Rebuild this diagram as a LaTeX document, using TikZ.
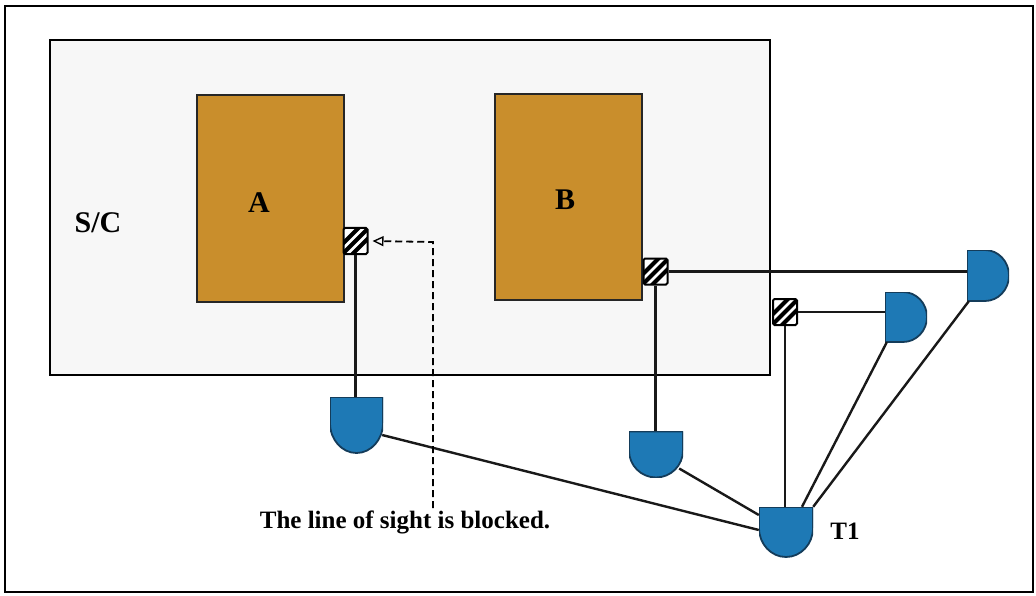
\documentclass[tikz,border=0pt]{standalone}
\usepackage{fontspec}
\setmainfont{Liberation Serif}
\usetikzlibrary{arrows.meta}

\definecolor{unitfill}{RGB}{201,142,44}
\definecolor{antfill}{RGB}{30,121,181}
\definecolor{antedge}{RGB}{20,60,90}
\definecolor{bodyfill}{RGB}{247,247,247}

\tikzset{
  frame/.style={draw=black, line width=2pt},
  body/.style={draw=black, line width=2.4pt, fill=bodyfill},
  unit/.style={draw=black!85, line width=1.4pt, fill=unitfill},
  wire/.style={draw=black!90, line width=2.4pt},
  sight/.style={draw=black, line width=1.8pt, dash pattern=on 7pt off 4pt,
    -{Triangle[open, length=11pt, width=10pt, line width=1.4pt]}},
  lbl/.style={font=\bfseries\fontsize{30}{34}\selectfont},
  hatch/.style={draw=black, line width=2pt, rounded corners=1.5pt, fill=white,
    minimum width=24pt, minimum height=26pt, inner sep=0pt,
    path picture={
      \foreach \d in {-10,0,10}{
        \draw[line width=4.2pt]
          ([xshift=\d pt]path picture bounding box.center) ++(-15pt,-15pt) -- ++(30pt,30pt);}}},
  % antenna with a flat top and a rounded bottom
  antdown/.style n args={3}{minimum width=#1, minimum height=#2, inner sep=0pt,
    path picture={
      \filldraw[fill=antfill, draw=antedge, line width=1.8pt]
        (path picture bounding box.north west) -- (path picture bounding box.north east)
        -- ([yshift=#3]path picture bounding box.south east)
        arc[start angle=0, end angle=-180, x radius=#1/2, y radius=#3] -- cycle;}},
  % antenna with a flat left side and a rounded right side
  antright/.style n args={3}{minimum width=#1, minimum height=#2, inner sep=0pt,
    path picture={
      \filldraw[fill=antfill, draw=antedge, line width=1.8pt]
        (path picture bounding box.south west) -- (path picture bounding box.north west)
        -- ([xshift=-#3]path picture bounding box.north east)
        arc[start angle=90, end angle=-90, x radius=#3, y radius=#2/2] -- cycle;}},
}

\begin{document}
\begin{tikzpicture}[x=1pt, y=-1pt]
\useasboundingbox (0,0) rectangle (1036,596);

% outer frame
\node[frame, minimum width=1028pt, minimum height=586pt, inner sep=0pt] (frame) at (519,299) {};

% spacecraft body
\node[body, minimum width=720pt, minimum height=335pt, inner sep=0pt] (sc) at (410,207.5) {};
\node[lbl] (sclabel) at (98,223) {S/C};

% units A and B
\node[unit, minimum width=147pt, minimum height=207pt, inner sep=0pt] (A) at (270.5,198.5) {};
\node[lbl] (Alabel) at (259,203) {A};
\node[unit, minimum width=147pt, minimum height=206pt, inner sep=0pt] (B) at (568.5,197) {};
\node[lbl] (Blabel) at (565,200) {B};

% antenna ports
\node[hatch] (sqA) at (355.5,241) {};
\node[hatch] (sqB) at (655.5,271.5) {};
\node[hatch] (sq3) at (785,312) {};

% antennas
\node[antdown={53pt}{56pt}{30pt}] (a1) at (356.5,425) {};
\node[antdown={54pt}{46pt}{27pt}] (a2) at (656,454.5) {};
\node[antdown={54pt}{50pt}{29pt}] (T1) at (786,532) {};
\node[font=\bfseries\fontsize{25}{29}\selectfont] (T1label) at (845,531) {T1};
\node[antright={42pt}{50pt}{24pt}] (a3) at (906,317) {};
\node[antright={42pt}{51pt}{24pt}] (a4) at (988,275.5) {};

% cabling from the ports
\draw[wire] (sqA.south) -- (sqA.south |- a1.north);
\draw[wire] (sqB.east) -- (sqB.east -| a4.west);
\draw[wire] (sqB.south) -- (sqB.south |- a2.north);
\draw[wire] (sq3.east) -- (sq3.east -| a3.west);
\draw[wire] (sq3.south) -- (sq3.south |- T1.north);

% links to T1
\draw[wire] ([shift={(-1pt,-10pt)}]a1.east) -- ([yshift=2pt]T1.west);
\draw[wire] ([shift={(-4pt,-14pt)}]a2.east) -- ([yshift=17pt]T1.west);
\draw[wire] ([xshift=2pt]a3.south west) -- ([xshift=16pt]T1.north);
\draw[wire] ([xshift=2pt]a4.south west) -- (T1.north east);

% blocked line of sight
\node[font=\bfseries\fontsize{25}{29}\selectfont, inner sep=2pt] (cap) at (405,522) {The line of sight is blocked.};
\coordinate (turn) at (433,242);
\draw[sight] (cap.north -| turn) -- (turn) -- ([xshift=4pt]sqA.east);
\end{tikzpicture}
\end{document}
